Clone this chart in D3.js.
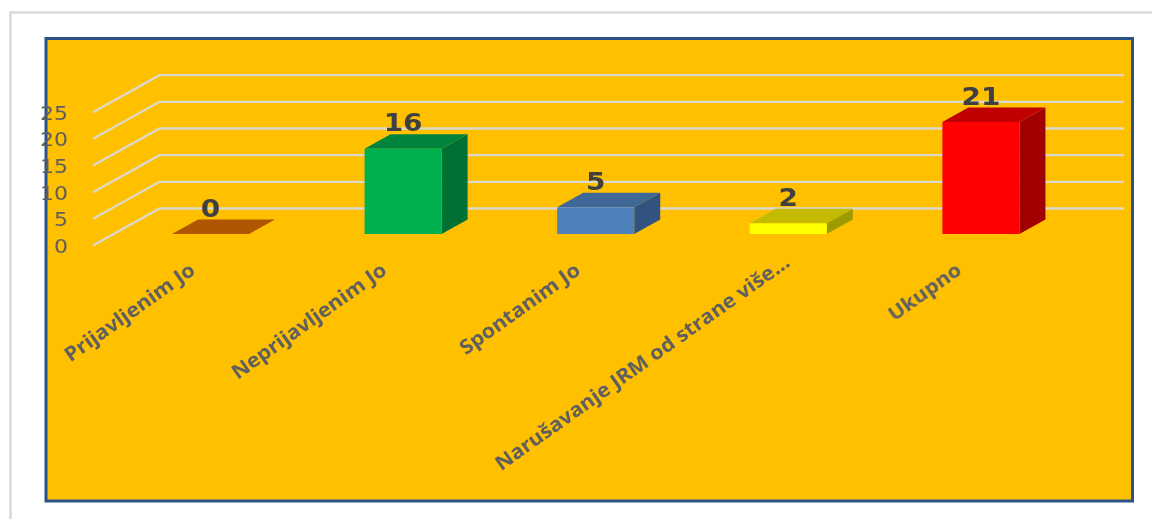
<!DOCTYPE html>
<html><head><meta charset="utf-8">
<script src="https://cdn.jsdelivr.net/npm/d3@7/dist/d3.min.js"></script>
<style>html,body{margin:0;padding:0;background:#fff;overflow:hidden}svg{display:block}</style>
</head><body><svg id="c" width="1152" height="519"></svg>
<script>
const categories = ["Prijavljenim Jo","Neprijavljenim Jo","Spontanim Jo","Narušavanje JRM od strane više...","Ukupno"];
const values = [0,16,5,2,21];
const frontColors = ["#c55a11","#00b050","#4f81bd","#ffff00","#ff0000"];
const topColors = ["#b05500","#00843c","#3f6797","#c4ba00","#c00000"];
const sideColors = ["#9c4a0c","#006f35","#325280","#9c9c00","#a00000"];
const yTicks = [0,5,10,15,20,25];

const svg = d3.select("#c");
const defs = svg.append("defs");
defs.append("filter").attr("id","soft").append("feGaussianBlur").attr("stdDeviation",0.45);

// Outer page frame
svg.append("path").attr("d","M1152,12.5H10.5V519").attr("fill","none").attr("stroke","#d9d9d9").attr("stroke-width",2.5);
svg.append("rect").attr("x",46).attr("y",38.5).attr("width",1086.5).attr("height",462.5)
  .attr("fill","#ffc000").attr("stroke","#2a5286").attr("stroke-width",3);

const g = svg.append("g").attr("filter","url(#soft)");
const x = d3.scaleBand().domain(categories).range([114.2,1077.2]).paddingInner(0.6).paddingOuter(0.3);
const y = d3.scaleLinear().domain([0,25]).range([234,100.67]);
const depth = {dx:26, dy:-14.5};
const wall = {leftX:93, leftDy:11.5, backX:159.5, backDy:-25.5, rightX:1124};

// Gridlines
g.append("g").selectAll("path").data(yTicks).join("path")
  .attr("d",d=>`M${wall.leftX},${y(d)+wall.leftDy}L${wall.backX},${y(d)+wall.backDy}H${wall.rightX}`)
  .attr("fill","none").attr("stroke","#dcd9cc").attr("stroke-width",2.3);

// Value axis labels
g.append("g").selectAll("text").data(yTicks).join("text")
  .attr("transform",d=>`translate(68,${y(d)+wall.leftDy+7.5}) scale(1.1,1)`)
  .attr("text-anchor","end").attr("font-family","DejaVu Sans").attr("font-size",20)
  .attr("fill","#5f5f5f").text(d=>d);

// Bars
const bars = g.append("g").selectAll("g").data(categories).join("g");
bars.append("path").attr("fill",(d,i)=>sideColors[i]).attr("d",(d,i)=>{
  const l=x(d)+x.bandwidth(), t=y(values[i]), b=y(0);
  return `M${l},${t}l${depth.dx},${depth.dy}V${b+depth.dy}L${l},${b}Z`;
}).attr("display",(d,i)=>values[i]===0?"none":null);
bars.append("path").attr("fill",(d,i)=>topColors[i]).attr("d",(d,i)=>{
  const l=x(d), t=y(values[i]), w=x.bandwidth();
  return `M${l},${t}l${depth.dx},${depth.dy}h${w}l${-depth.dx},${-depth.dy}Z`;
});
bars.append("rect").attr("fill",(d,i)=>frontColors[i])
  .attr("x",d=>x(d)).attr("width",x.bandwidth())
  .attr("y",(d,i)=>y(values[i])).attr("height",(d,i)=>y(0)-y(values[i]));

// Data labels
bars.append("text")
  .attr("transform",(d,i)=>`translate(${x(d)+x.bandwidth()/2},${y(values[i])-17.5}) scale(1.12,1)`)
  .attr("text-anchor","middle").attr("font-family","DejaVu Sans").attr("font-weight",700)
  .attr("font-size",25).attr("fill","#404040").text((d,i)=>values[i]);

// Category labels
const labelEnd = [[-14,273],[-15,273],[-14,273],[3,265],[-18,273]];
g.append("g").selectAll("text").data(categories).join("text")
  .attr("transform",(d,i)=>`translate(${x(d)+x.bandwidth()/2+labelEnd[i][0]},${labelEnd[i][1]}) rotate(-35.4) scale(1.07,1)`)
  .attr("text-anchor","end").attr("font-family","Open Sans").attr("font-weight",700)
  .attr("font-size",20).attr("fill","#5f5f5f").text(d=>d);
</script></body></html>
